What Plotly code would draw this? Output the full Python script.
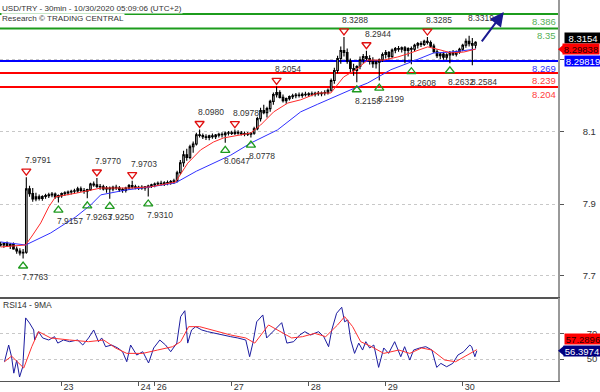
import plotly.graph_objects as go

# ---------------- data ----------------
# 1-hour bars, index = trading hours since Oct 22 05:00 (UTC+2)
hours = list(range(149))
opens = [7.812, 7.810, 7.814, 7.808, 7.812, 7.800, 7.795, 7.790, 7.792, 7.950,
         7.938, 7.925, 7.930, 7.926, 7.931, 7.933, 7.935, 7.937, 7.930, 7.933,
         7.938, 7.940, 7.942, 7.944, 7.945, 7.950, 7.946, 7.944, 7.948, 7.962,
         7.960, 7.956, 7.955, 7.950, 7.952, 7.950, 7.954, 7.952, 7.948, 7.946,
         7.952, 7.958, 7.955, 7.953, 7.954, 7.952, 7.955, 7.957, 7.960, 7.962,
         7.964, 7.963, 7.965, 7.966, 7.968, 7.970, 7.990, 8.015, 8.035, 8.028,
         8.055, 8.062, 8.085, 8.083, 8.080, 8.078, 8.082, 8.080, 8.084, 8.086,
         8.085, 8.089, 8.090, 8.088, 8.091, 8.089, 8.087, 8.088, 8.086, 8.089,
         8.100, 8.125, 8.145, 8.140, 8.150, 8.168, 8.185, 8.190, 8.178, 8.170,
         8.175, 8.180, 8.182, 8.184, 8.183, 8.186, 8.185, 8.187, 8.186, 8.188,
         8.187, 8.189, 8.190, 8.196, 8.220, 8.245, 8.275, 8.295, 8.290, 8.268,
         8.250, 8.245, 8.255, 8.272, 8.280, 8.275, 8.268, 8.262, 8.266, 8.272,
         8.285, 8.290, 8.280, 8.296, 8.300, 8.298, 8.302, 8.295, 8.300, 8.298,
         8.308, 8.312, 8.310, 8.318, 8.315, 8.306, 8.292, 8.282, 8.286, 8.278,
         8.284, 8.290, 8.286, 8.292, 8.298, 8.308, 8.318, 8.312, 8.308]
highs = [7.818, 7.816, 7.819, 7.815, 7.816, 7.806, 7.802, 7.800, 7.9791, 7.958,
         7.952, 7.940, 7.936, 7.934, 7.938, 7.940, 7.942, 7.941, 7.936, 7.941,
         7.944, 7.946, 7.948, 7.950, 7.955, 7.956, 7.952, 7.950, 7.965, 7.968,
         7.9770, 7.962, 7.960, 7.957, 7.956, 7.958, 7.960, 7.957, 7.953, 7.955,
         7.962, 7.9703, 7.960, 7.958, 7.959, 7.957, 7.960, 7.963, 7.966, 7.968,
         7.970, 7.969, 7.971, 7.972, 7.975, 7.995, 8.022, 8.045, 8.050, 8.060,
         8.068, 8.090, 8.0980, 8.088, 8.086, 8.085, 8.088, 8.087, 8.090, 8.091,
         8.093, 8.094, 8.095, 8.0978, 8.096, 8.094, 8.093, 8.092, 8.091, 8.105,
         8.130, 8.152, 8.160, 8.155, 8.172, 8.190, 8.2054, 8.196, 8.185, 8.178,
         8.183, 8.187, 8.189, 8.190, 8.190, 8.192, 8.191, 8.193, 8.192, 8.194,
         8.193, 8.196, 8.200, 8.225, 8.252, 8.282, 8.305, 8.3288, 8.300, 8.275,
         8.262, 8.258, 8.280, 8.286, 8.2944, 8.283, 8.278, 8.272, 8.275, 8.290,
         8.296, 8.294, 8.300, 8.304, 8.306, 8.305, 8.306, 8.303, 8.305, 8.312,
         8.316, 8.318, 8.322, 8.3285, 8.320, 8.312, 8.298, 8.290, 8.292, 8.288,
         8.294, 8.296, 8.295, 8.302, 8.312, 8.325, 8.3319, 8.326, 8.318]
lows = [7.806, 7.803, 7.806, 7.800, 7.798, 7.788, 7.784, 7.7763, 7.788, 7.930,
        7.918, 7.919, 7.921, 7.920, 7.925, 7.927, 7.929, 7.925, 7.9157, 7.928,
        7.932, 7.934, 7.936, 7.938, 7.940, 7.942, 7.938, 7.9263, 7.945, 7.955,
        7.952, 7.948, 7.946, 7.940, 7.9250, 7.944, 7.947, 7.942, 7.940, 7.941,
        7.948, 7.950, 7.949, 7.947, 7.948, 7.945, 7.9310, 7.952, 7.954, 7.957,
        7.958, 7.957, 7.959, 7.960, 7.962, 7.966, 7.985, 8.005, 8.020, 8.024,
        8.040, 8.058, 8.078, 8.074, 8.072, 8.071, 8.075, 8.074, 8.078, 8.078,
        8.0647, 8.083, 8.084, 8.084, 8.085, 8.083, 8.081, 8.082, 8.0778, 8.085,
        8.096, 8.118, 8.136, 8.128, 8.142, 8.160, 8.178, 8.175, 8.165, 8.162,
        8.170, 8.174, 8.176, 8.178, 8.177, 8.180, 8.179, 8.181, 8.180, 8.182,
        8.181, 8.183, 8.185, 8.192, 8.212, 8.238, 8.262, 8.280, 8.262, 8.240,
        8.232, 8.2158, 8.248, 8.262, 8.270, 8.260, 8.252, 8.250, 8.2199, 8.266,
        8.275, 8.272, 8.276, 8.288, 8.292, 8.290, 8.263, 8.280, 8.2608, 8.294,
        8.300, 8.304, 8.306, 8.310, 8.302, 8.288, 8.276, 8.274, 8.272, 8.272,
        8.2632, 8.281, 8.280, 8.287, 8.293, 8.302, 8.305, 8.2584, 8.300]
closes = [7.810, 7.814, 7.808, 7.812, 7.800, 7.795, 7.790, 7.792, 7.950, 7.938,
          7.925, 7.930, 7.926, 7.931, 7.933, 7.935, 7.937, 7.930, 7.933, 7.938,
          7.940, 7.942, 7.944, 7.945, 7.950, 7.946, 7.944, 7.948, 7.962, 7.960,
          7.956, 7.955, 7.950, 7.952, 7.950, 7.954, 7.952, 7.948, 7.946, 7.952,
          7.958, 7.955, 7.953, 7.954, 7.952, 7.955, 7.957, 7.960, 7.962, 7.964,
          7.963, 7.965, 7.966, 7.968, 7.970, 7.990, 8.015, 8.035, 8.028, 8.055,
          8.062, 8.085, 8.083, 8.080, 8.078, 8.082, 8.080, 8.084, 8.086, 8.085,
          8.089, 8.090, 8.088, 8.091, 8.089, 8.087, 8.088, 8.086, 8.089, 8.100,
          8.125, 8.145, 8.140, 8.150, 8.168, 8.185, 8.190, 8.178, 8.170, 8.175,
          8.180, 8.182, 8.184, 8.183, 8.186, 8.185, 8.187, 8.186, 8.188, 8.187,
          8.189, 8.190, 8.196, 8.220, 8.245, 8.275, 8.295, 8.290, 8.268, 8.250,
          8.245, 8.255, 8.272, 8.280, 8.275, 8.268, 8.262, 8.266, 8.272, 8.285,
          8.290, 8.280, 8.296, 8.300, 8.298, 8.302, 8.295, 8.300, 8.298, 8.308,
          8.312, 8.310, 8.318, 8.315, 8.306, 8.292, 8.282, 8.286, 8.278, 8.284,
          8.290, 8.286, 8.292, 8.298, 8.308, 8.318, 8.312, 8.308, 8.3154]

ma_fast_t = [0, 7.8, 10, 12.5, 15, 17.1, 24, 31.2, 40.5, 46.8, 54.5, 58.3, 62.3, 66.4,
             69.5, 74.8, 77.9, 81.0, 85.1, 89.5, 93.5, 98.8, 102.9, 104.5, 106.9, 110.7,
             114.4, 119.4, 123.8, 127.8, 133.1, 137.2, 140.3, 144.3, 148]
ma_fast = [7.805, 7.810, 7.835, 7.865, 7.905, 7.930, 7.940, 7.952, 7.952, 7.955, 7.967,
           8.014, 8.047, 8.067, 8.077, 8.084, 8.089, 8.109, 8.142, 8.164, 8.172, 8.189,
           8.189, 8.205, 8.229, 8.247, 8.271, 8.271, 8.279, 8.289, 8.304, 8.296, 8.289,
           8.291, 8.29838]
ma_slow_t = [0, 7.8, 15.6, 23.4, 28.1, 31.2, 39.0, 46.8, 54.5, 61.0, 71.7, 77.9, 86.3,
             93.5, 98.8, 103.8, 109.1, 114.4, 119.4, 121.6, 127.8, 135.0, 140.3, 148]
ma_slow = [7.8175, 7.810, 7.840, 7.880, 7.910, 7.935, 7.947, 7.955, 7.965, 7.994, 8.034,
           8.064, 8.097, 8.142, 8.161, 8.179, 8.197, 8.214, 8.236, 8.247, 8.266, 8.289,
           8.291, 8.29819]

rsi_t = [1.2, 2.5, 3.4, 4.1, 5.0, 5.9, 6.9, 7.8, 9.0, 10.3,
         10.6, 11.8, 13.1, 15.0, 16.8, 17.8, 19.6, 21.5, 24.0, 25.6,
         27.4, 29.0, 30.5, 31.5, 32.7, 34.6, 36.5, 38.0, 39.3, 40.5,
         42.4, 44.3, 46.1, 47.7, 49.6, 51.4, 53.0, 54.9, 56.1, 57.4,
         58.3, 59.5, 60.8, 62.7, 64.5, 66.7, 69.2, 71.7, 73.9, 76.4,
         77.6, 78.6, 79.8, 81.7, 82.9, 84.8, 86.3, 87.6, 89.2, 91.3,
         93.2, 94.8, 96.6, 99.1, 100.7, 102.2, 103.2, 104.7, 106.3, 107.2,
         108.2, 109.1, 110.3, 111.6, 112.8, 113.8, 115.0, 116.3, 117.8, 119.4,
         120.9, 122.8, 124.7, 125.9, 127.5, 128.7, 130.6, 132.5, 134.4, 135.9,
         137.2, 139.0, 140.9, 142.5, 144.3, 146.2, 146.8, 147.8, 148.4]
rsi = [47.9, 60.9, 51.8, 39.0, 49.0, 36.0, 44.0, 82.0, 78.0, 72.6,
       64.8, 71.3, 66.4, 64.8, 67.4, 62.4, 64.8, 63.5, 64.8, 60.9,
       66.4, 72.6, 63.5, 66.4, 59.6, 60.9, 58.6, 55.7, 47.9, 60.9,
       53.1, 55.7, 46.9, 58.6, 64.8, 60.9, 55.7, 62.4, 83.0, 87.6,
       62.4, 72.6, 75.2, 72.6, 71.3, 70.0, 68.7, 67.4, 66.4, 64.8,
       51.8, 62.4, 79.0, 84.3, 66.4, 71.3, 75.2, 78.3, 62.4, 63.5,
       68.7, 71.3, 68.7, 71.3, 67.4, 59.6, 72.6, 85.6, 90.3, 79.0,
       80.4, 64.8, 54.4, 62.4, 57.0, 63.5, 58.6, 60.9, 43.5, 58.6,
       54.4, 63.5, 51.8, 59.6, 49.2, 57.0, 58.6, 59.6, 57.0, 43.5,
       46.6, 44.0, 46.6, 53.1, 55.7, 60.9, 59.6, 51.8, 56.3974]
rsi_ma_t = [1.2, 3.4, 7.2, 9.7, 11.8, 15.6, 21.5, 27.4, 32.1, 35.8, 39.3, 44.3, 48.9,
            53.6, 56.1, 58.6, 62.0, 66.7, 71.7, 76.4, 79.2, 83.5, 87.0, 90.7, 94.1,
            97.9, 101.3, 105.0, 107.2, 109.7, 112.2, 115.6, 119.4, 124.1, 127.5,
            131.2, 134.4, 138.4, 141.8, 145.6, 148.4]
rsi_ma = [47.9, 52.3, 43.0, 59.6, 71.3, 66.4, 64.8, 63.5, 64.8, 58.6, 54.4, 54.4, 57.0,
          59.6, 63.5, 75.2, 75.2, 72.0, 68.7, 66.4, 62.4, 76.5, 71.3, 66.4, 67.4,
          70.0, 67.4, 76.5, 83.0, 75.2, 63.5, 59.6, 54.4, 57.0, 54.4,
          58.6, 57.0, 49.2, 47.9, 53.1, 57.2896]

swing_high_t = [8, 30, 41, 62, 73, 86, 107, 114, 133]
swing_high = [7.9791, 7.9770, 7.9703, 8.0980, 8.0978, 8.2054, 8.3288, 8.2944, 8.3285]
swing_low_t = [7, 18, 27, 34, 46, 70, 78, 111, 118, 128, 140]
swing_low = [7.7763, 7.9157, 7.9263, 7.9250, 7.9310, 8.0647, 8.0778, 8.2158, 8.2199,
             8.2608, 8.2632]
open_high_t, open_high = 146, 8.3319
open_low_t, open_low = 147, 8.2584

resistances = [8.386, 8.35]
pivot = 8.269
supports = [8.239, 8.204]

last_price = 8.3154
ma_fast_last = 8.29838
ma_slow_last = 8.29819
rsi_last = 56.3974
rsi_ma_last = 57.2896

day_ticks_t = [19, 43, 48, 72, 96, 120, 144]
day_labels = ["23", "24", "26", "27", "28", "29", "30"]
price_ticks = [7.7327, 7.9122, 8.0918, 8.2713]
rsi_ticks = [50, 70]

arrow_from = (149.6, 8.314)
arrow_to = (156.8, 8.391)

# ---------------- layout geometry ----------------
W, H = 600, 392
M_L, M_R, M_T, M_B = 0, 42, 0, 11
plot_h = H - M_T - M_B
rsi_h = 83
split = rsi_h / plot_h
price_range = [7.6778, 8.4209]
rsi_range = [32.9, 97.5]
x_range = [-0.2, 173.7]
ppu = (plot_h - rsi_h) / (price_range[1] - price_range[0])


def price_paper(v):
    return split + (v - price_range[0]) / (price_range[1] - price_range[0]) * (1 - split)


def rsi_paper(v):
    return (v - rsi_range[0]) / (rsi_range[1] - rsi_range[0]) * split


FONT = "Liberation Sans"
TXT = "#333333"
LBL = 8.5

fig = go.Figure()

fig.add_trace(go.Candlestick(
    x=hours, open=opens, high=highs, low=lows, close=closes,
    increasing=dict(line=dict(color="black", width=1.1), fillcolor="white"),
    decreasing=dict(line=dict(color="black", width=1.1), fillcolor="black"),
    whiskerwidth=0, xaxis="x", yaxis="y", showlegend=False, hoverinfo="skip"))

fig.add_trace(go.Scatter(x=ma_slow_t, y=ma_slow, mode="lines",
                         line=dict(color="#3030ff", width=1), xaxis="x", yaxis="y",
                         showlegend=False, hoverinfo="skip"))
fig.add_trace(go.Scatter(x=ma_fast_t, y=ma_fast, mode="lines",
                         line=dict(color="#ff2a2a", width=1), xaxis="x", yaxis="y",
                         showlegend=False, hoverinfo="skip"))

# swing markers
fig.add_trace(go.Scatter(x=swing_high_t, y=[p + 6 / ppu for p in swing_high], mode="markers",
                         marker=dict(symbol="triangle-down-open", size=8,
                                     line=dict(color="#e01010", width=1.3), color="#e01010"),
                         xaxis="x", yaxis="y", showlegend=False, hoverinfo="skip"))
fig.add_trace(go.Scatter(x=swing_low_t, y=[p - 7.5 / ppu for p in swing_low], mode="markers",
                         marker=dict(symbol="triangle-up-open", size=8,
                                     line=dict(color="#1e9a1e", width=1.3), color="#1e9a1e"),
                         xaxis="x", yaxis="y", showlegend=False, hoverinfo="skip"))

# RSI
fig.add_trace(go.Scatter(x=rsi_t, y=rsi, mode="lines", line=dict(color="#1c1ca0", width=1),
                         xaxis="x2", yaxis="y2", showlegend=False, hoverinfo="skip"))
fig.add_trace(go.Scatter(x=rsi_ma_t, y=rsi_ma, mode="lines", line=dict(color="#ff3030", width=1),
                         xaxis="x2", yaxis="y2", showlegend=False, hoverinfo="skip"))

shapes = []
for lv in resistances:
    shapes.append(dict(type="line", xref="paper", x0=0, x1=1, yref="y", y0=lv, y1=lv,
                       line=dict(color="#1c9c1c", width=2), layer="below"))
shapes.append(dict(type="line", xref="paper", x0=0, x1=1, yref="y", y0=pivot, y1=pivot,
                   line=dict(color="#0000ff", width=2), layer="below"))
for lv in supports:
    shapes.append(dict(type="line", xref="paper", x0=0, x1=1, yref="y", y0=lv, y1=lv,
                       line=dict(color="#ff0000", width=2), layer="below"))

annotations = []
# level labels
for lv, col in [(resistances[0], "#55b055"), (resistances[1], "#55b055"), (pivot, "#3030ff"),
                (supports[0], "#ff4040"), (supports[1], "#ff4040")]:
    annotations.append(dict(text=("%.3f" % lv).rstrip("0"), xref="paper", x=1, xanchor="right",
                            xshift=-1, yref="y", y=lv, yanchor="top", yshift=-1,
                            showarrow=False, font=dict(family=FONT, size=9.5, color=col),
                            borderpad=0))

# swing labels
for t, p in zip(swing_high_t, swing_high):
    annotations.append(dict(text="%.4f" % p, x=t, y=p, xref="x", yref="y", xanchor="left",
                            xshift=-3.5, yanchor="middle", yshift=17, showarrow=False,
                            font=dict(family=FONT, size=LBL, color=TXT)))
annotations.append(dict(text="%.4f" % open_high, x=open_high_t, y=open_high, xref="x", yref="y",
                        xanchor="left", xshift=-3.5, yanchor="middle", yshift=18,
                        showarrow=False, font=dict(family=FONT, size=LBL, color=TXT)))
for t, p in zip(swing_low_t, swing_low):
    annotations.append(dict(text="%.4f" % p, x=t, y=p, xref="x", yref="y", xanchor="left",
                            xshift=-3.5, yanchor="middle", yshift=-18.5, showarrow=False,
                            font=dict(family=FONT, size=LBL, color=TXT)))
annotations.append(dict(text="%.4f" % open_low, x=open_low_t, y=open_low, xref="x", yref="y",
                        xanchor="left", xshift=-3.5, yanchor="middle", yshift=-17,
                        showarrow=False, font=dict(family=FONT, size=LBL, color=TXT)))

# forecast arrow
annotations.append(dict(x=arrow_to[0], y=arrow_to[1], ax=arrow_from[0], ay=arrow_from[1],
                        xref="x", yref="y", axref="x", ayref="y", text="", showarrow=True,
                        arrowhead=2, arrowsize=1.4, arrowwidth=2, arrowcolor="#1a1a90"))

# title
annotations.append(dict(text="USD/TRY - 30min - 10/30/2020 05:09:06 (UTC+2)", xref="paper",
                        yref="paper", x=0, y=1 - 8 / plot_h, xanchor="left", yanchor="middle",
                        xshift=1, showarrow=False, bgcolor="white", borderpad=0,
                        font=dict(family=FONT, size=8.1, color=TXT)))
annotations.append(dict(text="Research © TRADING CENTRAL", xref="paper", yref="paper",
                        x=0, y=1 - 19 / plot_h, xanchor="left", yanchor="middle", xshift=1,
                        showarrow=False, bgcolor="white", borderpad=0,
                        font=dict(family=FONT, size=8.1, color=TXT)))
annotations.append(dict(text="RSI14 - 9MA", xref="paper", yref="paper", x=0,
                        y=1 - 305 / plot_h, xanchor="left", yanchor="middle", xshift=1,
                        showarrow=False, font=dict(family=FONT, size=LBL, color=TXT)))


def value_box(text, yval, paper_fn, shift, bg, fg, xs):
    return dict(text=text, xref="paper", x=1, xanchor="left", xshift=xs,
                yref="paper", y=paper_fn(yval), yanchor="middle", yshift=shift,
                showarrow=False, bgcolor=bg, borderpad=0, width=36, height=10,
                font=dict(family=FONT, size=9.5, color=fg))


annotations.append(value_box("%.4f" % last_price, last_price, price_paper, 4, "black", "white", 6))
annotations.append(value_box("%.5f" % ma_fast_last, ma_fast_last, price_paper, 0, "#ff0000", "#2a0000", 4))
annotations.append(value_box("%.5f" % ma_slow_last, ma_slow_last, price_paper, -12, "#0000ff", "white", 6))
annotations.append(value_box("%.4f" % rsi_ma_last, rsi_ma_last, rsi_paper, 10.5, "#ff0000", "#2a0000", 6))
annotations.append(value_box("%.4f" % rsi_last, rsi_last, rsi_paper, 0, "#000080", "white", 5))

# pointer tips on value boxes
for yv, fn, col in [(ma_fast_last, price_paper, "#ff0000"), (rsi_last, rsi_paper, "#000080")]:
    shapes.append(dict(type="path", xref="paper", yref="paper", xsizemode="pixel",
                       ysizemode="pixel", xanchor=1, yanchor=fn(yv),
                       path="M 0 0 L 6 5 L 6 -5 Z", fillcolor=col, line=dict(width=0)))

fig.update_layout(
    width=W, height=H, margin=dict(l=M_L, r=M_R, t=M_T, b=M_B, autoexpand=False),
    paper_bgcolor="white", plot_bgcolor="white",
    font=dict(family=FONT, size=9, color=TXT),
    showlegend=False, shapes=shapes, annotations=annotations,
    xaxis=dict(domain=[0, 1], range=x_range, anchor="y", showticklabels=False, ticks="",
               showgrid=False, zeroline=False, showline=True, linecolor="#555555",
               linewidth=1, rangeslider=dict(visible=False), automargin=False),
    xaxis2=dict(domain=[0, 1], range=x_range, matches="x", anchor="y2",
                tickvals=day_ticks_t, ticktext=day_labels, ticks="outside", ticklen=4,
                tickcolor="#555555", showgrid=False, zeroline=False, showline=True,
                mirror=True, linecolor="#555555", linewidth=1, ticklabelshift=7,
                ticklabelstandoff=-7, automargin=False,
                tickfont=dict(family=FONT, size=9, color=TXT)),
    yaxis=dict(domain=[split, 1], range=price_range, side="right", anchor="x",
               tickvals=price_ticks, tickformat=".1f", ticks="outside", ticklen=4,
               tickcolor="#555555", showline=True, linecolor="#999999", linewidth=1.5,
               showgrid=True, gridcolor="#c8c8c8", griddash="dot", zeroline=False,
               ticklabelstandoff=17, automargin=False,
               tickfont=dict(family=FONT, size=9.5, color=TXT)),
    yaxis2=dict(domain=[0, split], range=rsi_range, side="right", anchor="x2",
                tickvals=rsi_ticks, ticks="outside", ticklen=4, tickcolor="#555555",
                showline=True, linecolor="#999999", linewidth=1.5, showgrid=True,
                gridcolor="#c8c8c8", griddash="dot", zeroline=False,
                ticklabelstandoff=21, automargin=False,
                tickfont=dict(family=FONT, size=9.5, color=TXT)),
)

fig.write_html("out.html", config={"displayModeBar": False},
               post_script="document.body.style.margin='0';document.body.style.overflow='hidden';")
